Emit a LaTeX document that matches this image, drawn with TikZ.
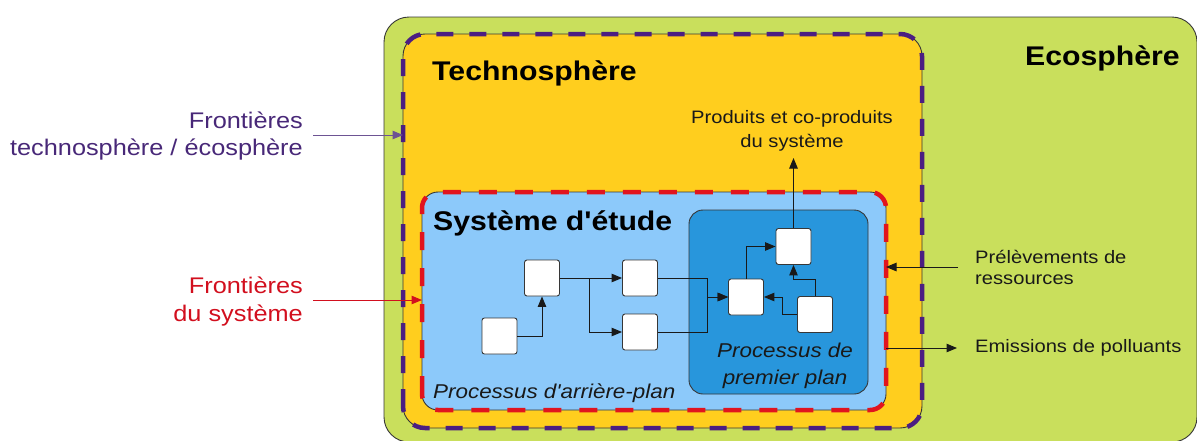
\documentclass[tikz,border=0pt]{standalone}
\usepackage{fontspec}
\setmainfont[FakeStretch=1.12]{Liberation Sans}
\newfontfamily\lib[FakeStretch=1.12]{Liberation Sans}
\usetikzlibrary{arrows.meta}
\definecolor{eco}{RGB}{201,223,92}
\definecolor{techno}{RGB}{255,206,30}
\definecolor{sysblue}{RGB}{140,201,250}
\definecolor{fgblue}{RGB}{40,150,220}
\definecolor{bpurple}{RGB}{75,30,130}
\definecolor{bred}{RGB}{225,20,30}
\definecolor{tpurple}{RGB}{72,40,120}
\definecolor{tred}{RGB}{210,15,30}
\definecolor{outl}{RGB}{55,55,55}
\begin{document}
\begin{tikzpicture}[x=1pt,y=-1pt,
  region/.style={rectangle, draw=outl, line width=0.9pt, inner sep=0pt, outer sep=0pt},
  proc/.style={rectangle, draw=outl, fill=white, rounded corners=2.5pt, minimum width=35pt, minimum height=36pt, inner sep=0pt, line width=0.9pt},
  flow/.style={draw=black!90, line width=1pt, -{Triangle[length=10.5pt,width=8.5pt]}},
  purplebound/.style={draw=bpurple, line width=4.5pt, dash pattern=on 17pt off 16pt},
  redbound/.style={draw=bred, line width=4.5pt, dash pattern=on 18pt off 18pt},
  title/.style={font=\lib\fontsize{27}{32}\selectfont\bfseries, text=black, inner sep=0pt},
  small/.style={font=\lib\fontsize{18}{22}\selectfont, text=black!90, inner sep=0pt},
  ital/.style={font=\lib\fontsize{20}{24}\selectfont\itshape, text=black!90, inner sep=0pt},
  side/.style={font=\lib\fontsize{22.6}{27}\selectfont, inner sep=0pt}
]
\useasboundingbox (0,0) rectangle (1197,440);
% regions
\node[region, fill=eco, rounded corners=25pt, minimum width=813pt, minimum height=425pt] (eco) at (790.5,229.5) {};
\node[region, fill=techno, rounded corners=22pt, minimum width=519pt, minimum height=394pt] (techno) at (662.5,231) {};
\draw[purplebound, rounded corners=22pt] (techno.south west) rectangle (techno.north east);
\node[region, fill=sysblue, rounded corners=16pt, minimum width=464pt, minimum height=218pt] (sys) at (654,301) {};
\draw[redbound, rounded corners=16pt] (sys.south west) rectangle (sys.north east);
\node[region, fill=fgblue, rounded corners=14pt, minimum width=179pt, minimum height=184pt] (fg) at (778.5,302) {};

% titles
\node[title, anchor=base east] (ecotitle) at (1180,65) {Ecosphère};
\node[title, anchor=base west] (technotitle) at (432,80) {Technosphère};
\node[title, anchor=base west] (systitle) at (433,230) {Système d'étude};
\node[ital, anchor=base west] (bgtitle) at (433,398) {Processus d'arrière-plan};
\node[ital, anchor=base] (fgtitle1) at (785,357) {Processus de};
\node[ital, anchor=base] (fgtitle2) at (785,384) {premier plan};

% processes
\node[proc] (A) at (499.5,336) {};
\node[proc] (B) at (542,278) {};
\node[proc] (C) at (640,278) {};
\node[proc] (D) at (640,332) {};
\node[proc] (E) at (746,297) {};
\node[proc] (F) at (793.5,246.5) {};
\node[proc] (G) at (815,314.5) {};

\draw[flow] (A.east) -| (B.south);
\draw[flow] (B.east) -- (C.west);
\draw[flow] (B.east) -- ++(30,0) |- (D.west);
\draw[flow] (C.east) -- ++(50,0) |- (E.west);
\draw[flow] (D.east) -- ++(50,0) |- (E.west);
\draw[flow] (E.north) |- (F.west);
\draw[flow] (G.north) -- ++(0,-17) -| (F.south);
\draw[flow] (G.west) -- ++(-15,0) |- (E.east);

% outputs
\node[small, anchor=base] (prod1) at (792,123) {Produits et co-produits};
\node[small, anchor=base] (prod2) at (792,147) {du système};
\coordinate (prodtip) at (793.5,158);
\draw[flow] (F.north) -- (prodtip);

\node[small, anchor=base west] (prel1) at (975,263) {Prélèvements de};
\node[small, anchor=base west] (prel2) at (975,284) {ressources};
\coordinate (prelstart) at (958,267);
\draw[flow] (prelstart) -- (prelstart -| sys.east);

\node[small, anchor=base west] (emis) at (975,352) {Emissions de polluants};
\coordinate (emistip) at (957,348);
\draw[flow] (emistip -| sys.east) -- (emistip);

% left labels
\node[side, text=tpurple, anchor=base east] (lp1) at (303,128) {Frontières};
\node[side, text=tpurple, anchor=base east] (lp2) at (303,155) {technosphère / écosphère};
\coordinate (pstart) at (313,135);
\draw[draw=tpurple!80, line width=1pt, -{Triangle[length=10.5pt,width=8.5pt]}] (pstart) -- (pstart -| techno.west);

\node[side, text=tred, anchor=base east] (lr1) at (303,293) {Frontières};
\node[side, text=tred, anchor=base east] (lr2) at (303,321) {du système};
\coordinate (rstart) at (313,300);
\draw[draw=tred, line width=1pt, -{Triangle[length=10.5pt,width=8.5pt]}] (rstart) -- (rstart -| sys.west);
\end{tikzpicture}
\end{document}
